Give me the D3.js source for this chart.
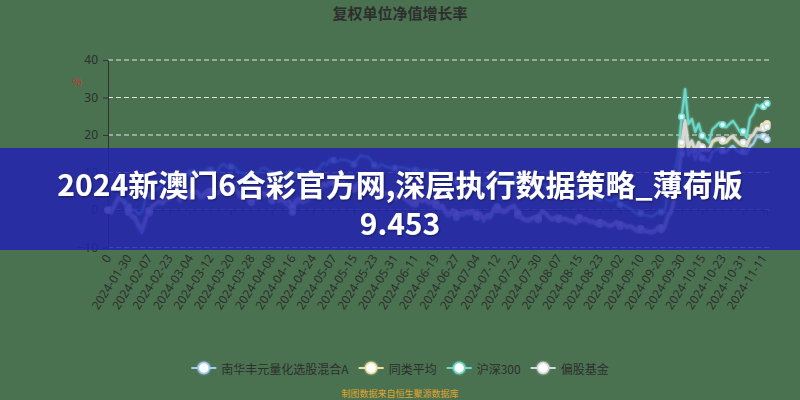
<!DOCTYPE html>
<html><head><meta charset="utf-8">
<script src="https://cdn.jsdelivr.net/npm/d3@7/dist/d3.min.js"></script>
<style>
html,body{margin:0;padding:0;background:#4a7250;}
svg{display:block;font-family:"Noto Sans CJK SC","Noto Sans",sans-serif;}
</style></head><body>
<svg id="chart" width="800" height="400"></svg>
<script>
const chartTitle = "复权单位净值增长率";
const bannerLines = ["2024新澳门6合彩官方网,深层执行数据策略_薄荷版", "9.453"];
const footnote = "制图数据来自恒生聚源数据库";
const yAxisName = "%";
const yTicks = [-10, 0, 10, 20, 30, 40];
const tickLabels = ["0","2024-01-30","2024-02-07","2024-02-23","2024-03-04","2024-03-12","2024-03-20","2024-03-28",
  "2024-04-08","2024-04-16","2024-04-24","2024-05-07","2024-05-15","2024-05-23","2024-05-31","2024-06-11",
  "2024-06-19","2024-06-27","2024-07-04","2024-07-12","2024-07-22","2024-07-30","2024-08-07","2024-08-15",
  "2024-08-23","2024-09-02","2024-09-10","2024-09-20","2024-09-30","2024-10-15","2024-10-23","2024-10-31","2024-11-11"];
const dates = [
 "2024-01-22","2024-01-23","2024-01-24","2024-01-25","2024-01-26","2024-01-29","2024-01-30","2024-01-31",
 "2024-02-01","2024-02-02","2024-02-05","2024-02-06","2024-02-07","2024-02-08","2024-02-19","2024-02-20","2024-02-21","2024-02-22","2024-02-23","2024-02-26","2024-02-27","2024-02-28","2024-02-29",
 "2024-03-01","2024-03-04","2024-03-05","2024-03-06","2024-03-07","2024-03-08","2024-03-11","2024-03-12","2024-03-13","2024-03-14","2024-03-15","2024-03-18","2024-03-19","2024-03-20","2024-03-21","2024-03-22","2024-03-25","2024-03-26","2024-03-27","2024-03-28","2024-03-29","2024-03-31",
 "2024-04-01","2024-04-02","2024-04-03","2024-04-08","2024-04-09","2024-04-10","2024-04-11","2024-04-12","2024-04-15","2024-04-16","2024-04-17","2024-04-18","2024-04-19","2024-04-22","2024-04-23","2024-04-24","2024-04-25","2024-04-26","2024-04-29","2024-04-30",
 "2024-05-06","2024-05-07","2024-05-08","2024-05-09","2024-05-10","2024-05-13","2024-05-14","2024-05-15","2024-05-16","2024-05-17","2024-05-20","2024-05-21","2024-05-22","2024-05-23","2024-05-24","2024-05-27","2024-05-28","2024-05-29","2024-05-30","2024-05-31",
 "2024-06-03","2024-06-04","2024-06-05","2024-06-06","2024-06-07","2024-06-11","2024-06-12","2024-06-13","2024-06-14","2024-06-17","2024-06-18","2024-06-19","2024-06-20","2024-06-21","2024-06-24","2024-06-25","2024-06-26","2024-06-27","2024-06-28","2024-06-30",
 "2024-07-01","2024-07-02","2024-07-03","2024-07-04","2024-07-05","2024-07-08","2024-07-09","2024-07-10","2024-07-11","2024-07-12","2024-07-15","2024-07-16","2024-07-17","2024-07-18","2024-07-19","2024-07-22","2024-07-23","2024-07-24","2024-07-25","2024-07-26","2024-07-29","2024-07-30","2024-07-31",
 "2024-08-01","2024-08-02","2024-08-05","2024-08-06","2024-08-07","2024-08-08","2024-08-09","2024-08-12","2024-08-13","2024-08-14","2024-08-15","2024-08-16","2024-08-19","2024-08-20","2024-08-21","2024-08-22","2024-08-23","2024-08-26","2024-08-27","2024-08-28","2024-08-29","2024-08-30",
 "2024-09-02","2024-09-03","2024-09-04","2024-09-05","2024-09-06","2024-09-09","2024-09-10","2024-09-11","2024-09-12","2024-09-13","2024-09-18","2024-09-19","2024-09-20","2024-09-23","2024-09-24","2024-09-25","2024-09-26","2024-09-27","2024-09-30",
 "2024-10-08","2024-10-09","2024-10-10","2024-10-11","2024-10-14","2024-10-15","2024-10-16","2024-10-17","2024-10-18","2024-10-21","2024-10-22","2024-10-23","2024-10-24","2024-10-25","2024-10-28","2024-10-29","2024-10-30","2024-10-31",
 "2024-11-01","2024-11-05","2024-11-06","2024-11-07","2024-11-08","2024-11-11","2024-11-12"];

const seriesNames = ["南华丰元量化选股混合A", "同类平均", "沪深300", "偏股基金"];
const seriesColors = ["#a6c9ee", "#ece0a2", "#6cd8cb", "#d8d8d8"];

const fundValues = [
 0,-0.8,1.2,3.0,2.6,1.5,-0.6,-2.2,
 -2.8,-5.0,-6.2,-3.0,-0.8,0.8,1.6,2.0,1.4,2.6,3.3,3.0,4.6,2.2,3.8,
 4.3,3.6,3.9,4.5,3.2,3.4,4.6,4.2,4.9,4.0,4.8,5.5,4.3,5.1,5.6,4.3,3.2,3.6,2.4,2.0,2.9,2.9,
 4.1,3.7,3.9,2.4,2.9,2.2,2.5,1.5,0.9,-0.6,1.6,2.4,1.8,2.3,2.8,3.9,4.3,5.5,6.8,6.3,
 7.6,7.5,7.0,7.6,7.2,6.6,6.1,5.6,6.5,7.7,7.6,7.3,6.4,4.9,4.0,4.6,4.1,4.2,3.7,3.5,
 3.2,3.3,2.8,2.0,1.1,1.6,2.6,2.1,2.4,1.6,1.8,1.3,0.2,0.6,-1.4,-1.7,-0.6,-1.9,-1.5,-1.5,
 -1.0,-1.2,-0.8,-1.9,-1.5,-3.1,-1.9,-2.2,-0.2,0.1,-0.4,-0.9,-0.3,0.5,0.8,-1.4,-2.3,-2.9,-3.1,-2.7,-2.2,-2.6,-0.6,
 -0.9,-2.0,-2.8,-2.2,-2.5,-2.7,-2.6,-3.0,-3.3,-3.8,-2.5,-2.8,-2.6,-3.4,-3.2,-4.0,-3.8,-3.5,-4.2,-4.5,-4.2,-3.4,
 -4.4,-4.3,-4.8,-4.6,-5.2,-5.9,-5.4,-5.8,-6.0,-6.3,-6.1,-5.1,-5.2,-5.0,-1.9,-0.8,3.0,8.0,15.0,
 21.5,14.5,16.3,13.5,15.6,13.9,13.4,13.0,15.4,16.0,16.2,15.8,15.4,16.4,17.1,16.0,15.3,15.6,
 14.9,16.9,17.7,19.6,19.4,19.6,18.8];

const peerAvgValues = [
 0,-0.5,1.4,3.2,2.9,1.9,0.2,-1.3,
 -1.9,-3.8,-5.0,-2.2,-0.2,1.0,1.8,2.2,1.9,3.2,3.8,3.6,5.0,2.8,4.3,
 4.8,4.2,4.6,5.0,3.8,4.0,5.0,4.7,5.2,4.4,5.1,5.8,4.8,5.4,5.8,4.6,3.7,4.0,3.0,2.7,3.5,3.5,
 4.6,4.2,4.4,3.0,3.4,2.8,3.0,2.2,2.4,0.8,2.5,3.0,2.4,2.7,3.1,4.0,4.4,5.6,6.9,6.4,
 7.5,7.3,6.9,7.4,7.1,6.6,6.1,5.7,6.6,7.7,7.5,7.2,6.4,5.0,4.2,4.8,4.3,4.3,3.9,3.7,
 3.5,3.6,3.1,2.5,1.8,2.2,3.0,2.6,2.9,2.2,2.3,1.9,0.9,1.2,-0.6,-0.9,0.1,-1.1,-0.8,-0.8,
 -0.4,-0.5,-0.2,-1.2,-0.9,-2.4,-1.3,-1.6,0.4,0.7,0.2,-0.4,0.2,0.9,1.2,-0.9,-1.8,-2.5,-2.7,-2.3,-1.9,-2.2,-0.4,
 -0.7,-1.8,-2.5,-2.0,-2.3,-2.4,-2.3,-2.8,-3.0,-3.4,-2.2,-2.5,-2.4,-3.1,-3.0,-3.7,-3.5,-3.3,-3.9,-4.2,-3.9,-3.2,
 -4.0,-3.9,-4.4,-4.2,-4.8,-5.5,-5.0,-5.4,-5.6,-5.8,-5.6,-4.7,-4.8,-4.6,-1.4,-0.2,3.6,8.8,17.5,
 23.5,16.5,18.2,15.5,17.8,16.4,16.0,15.8,18.0,18.6,18.8,18.4,18.0,19.0,19.6,18.5,17.6,17.8,
 17.0,19.2,20.0,21.8,21.6,22.4,23.0];

const csi300Values = [
 0,0.34,1.74,3.67,3.11,2.49,0.84,-0.09,
 0.03,-1.21,-0.53,2.83,3.88,4.54,5.44,5.84,7.15,8.14,8.58,8.05,9.20,7.58,9.26,
 9.94,9.85,10.78,10.22,9.38,9.70,10.78,10.66,10.35,10.41,11.68,12.31,11.16,11.47,11.56,10.35,9.85,9.82,8.92,9.23,9.91,9.91,
 11.28,11.09,10.63,9.57,10.04,8.92,9.20,8.02,10.41,9.20,10.66,11.00,10.04,9.70,9.38,9.91,10.38,11.09,12.62,11.99,
 13.55,13.24,12.77,13.39,13.42,13.27,12.77,12.21,13.36,14.64,14.23,14.26,13.33,11.99,11.28,12.27,11.72,11.44,11.06,11.22,
 11.28,11.37,11.19,10.81,10.91,10.63,10.75,10.25,10.75,10.22,10.29,10.04,9.38,9.45,8.30,7.89,8.36,7.58,7.55,7.55,
 8.17,8.33,8.30,7.36,7.49,6.62,7.46,6.99,8.55,8.67,8.48,7.80,8.27,9.01,9.04,7.33,6.53,5.62,5.41,5.78,6.22,6.06,6.96,
 6.62,5.56,5.16,5.41,5.19,5.25,5.47,4.82,4.57,3.98,5.22,4.97,4.79,3.88,3.76,2.95,3.11,3.36,2.77,2.42,2.64,3.20,
 1.49,1.46,0.71,0.40,-0.31,-1.18,-0.87,-1.40,-1.43,-1.80,-1.46,-0.50,-0.53,-0.40,4.13,5.72,10.35,15.07,24.86,
 32.26,22.90,24.33,20.79,23.09,19.79,19.08,17.96,21.50,22.34,23.31,22.72,22.00,22.93,23.80,22.47,20.91,20.91,
 19.24,24.43,25.67,28.09,27.53,27.60,28.40];

const equityFundValues = [
 0,-0.6,1.3,3.3,2.8,2.0,0.0,-1.5,
 -2.0,-4.0,-5.1,-2.4,-0.4,1.1,1.9,2.4,2.1,3.3,3.9,3.6,5.2,3.0,4.5,
 5.0,4.5,4.9,5.2,4.0,4.2,5.3,5.0,5.4,4.6,5.3,6.0,5.0,5.6,6.1,4.9,3.9,4.2,3.1,2.8,3.6,3.6,
 4.8,4.4,4.6,3.1,3.6,2.9,3.1,2.3,2.6,1.0,2.7,3.2,2.6,2.9,3.3,4.2,4.6,5.8,7.1,6.6,
 7.8,7.6,7.2,7.7,7.4,6.9,6.4,5.9,6.8,8.0,7.8,7.5,6.7,5.3,4.4,5.0,4.5,4.5,4.1,3.9,
 3.7,3.8,3.3,2.7,2.0,2.4,3.2,2.8,3.1,2.4,2.5,2.1,1.1,1.3,-0.5,-0.8,0.2,-1.0,-0.7,-0.7,
 -0.3,-0.4,-0.1,-1.1,-0.8,-2.3,-1.2,-1.5,0.5,0.8,0.3,-0.3,0.3,1.0,1.3,-0.8,-1.7,-2.3,-2.5,-2.1,-1.7,-2.0,-0.2,
 -0.5,-1.6,-2.3,-1.8,-2.1,-2.2,-2.1,-2.6,-2.8,-3.3,-2.0,-2.3,-2.2,-2.9,-2.8,-3.5,-3.3,-3.1,-3.7,-4.0,-3.7,-3.0,
 -3.9,-3.8,-4.3,-4.1,-4.7,-5.4,-4.9,-5.3,-5.5,-5.7,-5.5,-4.6,-4.7,-4.5,-1.3,-0.1,3.8,9.0,18.0,
 24.0,17.0,18.6,16.0,18.2,16.8,16.3,16.0,18.4,19.0,19.2,18.7,18.3,19.3,19.8,18.7,17.8,18.0,
 17.2,19.3,20.1,21.6,21.3,21.8,22.2];

const seriesValues = [fundValues, peerAvgValues, csi300Values, equityFundValues];

// ---------- drawing ----------
const W = 800, H = 400;
const svg = d3.select("#chart");
svg.append("rect").attr("width", W).attr("height", H).attr("fill", "#4a7250");

const margin = {left: 108, right: 33, top: 60, bottom: 152.5};
const x = d3.scalePoint().domain(d3.range(dates.length)).range([margin.left, W - margin.right]);
const y = d3.scaleLinear().domain([-10, 40]).range([H - margin.bottom, margin.top]);

const defs = svg.append("defs");
const glow = defs.append("filter").attr("id", "glow").attr("x", "-50%").attr("y", "-50%").attr("width", "200%").attr("height", "200%");
glow.append("feGaussianBlur").attr("stdDeviation", 1.2).attr("result", "b");
const gm = glow.append("feMerge");
gm.append("feMergeNode").attr("in", "b");
gm.append("feMergeNode").attr("in", "SourceGraphic");
const tshadow = defs.append("filter").attr("id", "tshadow").attr("x", "-10%").attr("y", "-30%").attr("width", "120%").attr("height", "160%");
tshadow.append("feDropShadow").attr("dx", 1).attr("dy", 1).attr("stdDeviation", 1).attr("flood-color", "#000").attr("flood-opacity", 0.45);

// title
svg.append("text").attr("x", W / 2).attr("y", 12).attr("text-anchor", "middle")
  .attr("dominant-baseline", "central").attr("font-size", 15).attr("font-weight", "bold")
  .attr("fill", "#2e2e2e").text(chartTitle);

// grid lines
svg.append("g").selectAll("line").data(yTicks).join("line")
  .attr("x1", margin.left).attr("x2", W - margin.right + 2)
  .attr("y1", d => y(d)).attr("y2", d => y(d))
  .attr("stroke", "#e6e6e6").attr("stroke-width", 1).attr("stroke-dasharray", "5,3");

// y axis
const yAxis = d3.axisLeft(y).tickValues(yTicks).tickSize(5).tickPadding(5);
const gy = svg.append("g").attr("transform", `translate(${margin.left},0)`).call(yAxis);
gy.select(".domain").attr("stroke", "#333");
gy.selectAll(".tick line").attr("stroke", "#333");
gy.selectAll(".tick text").attr("font-size", 12).attr("fill", "#2e2e2e").attr("font-family", "'Noto Sans','DejaVu Sans',sans-serif");

svg.append("text").attr("x", 76).attr("y", 81).attr("text-anchor", "middle")
  .attr("dominant-baseline", "central").attr("font-size", 11).attr("font-style", "italic")
  .attr("fill", "#c0392b").text(yAxisName);

// x axis at zero
const tickIdx = d3.range(dates.length).filter(i => i % 6 === 0);
const xAxis = d3.axisBottom(x).tickValues(tickIdx).tickSize(5).tickFormat("");
const gx = svg.append("g").attr("transform", `translate(0,${y(0)})`).call(xAxis);
gx.select(".domain").attr("stroke", "#333");
gx.selectAll(".tick line").attr("stroke", "#333");

// x labels at bottom of grid
svg.append("g").selectAll("text").data(tickIdx).join("text")
  .attr("transform", d => `translate(${x(d)},${y(-10) + 8}) rotate(-57)`)
  .attr("text-anchor", "end").attr("dominant-baseline", "central")
  .attr("font-size", 12).attr("fill", "#2e2e2e")
  .attr("font-family", "'Noto Sans','DejaVu Sans',sans-serif")
  .text((d, k) => tickLabels[k]);

// lines
const line = d3.line().x((d, i) => x(i)).y(d => y(d));
const gLines = svg.append("g");
seriesValues.forEach((vals, s) => {
  gLines.append("path").datum(vals).attr("d", line)
    .attr("fill", "none").attr("stroke", seriesColors[s]).attr("stroke-width", 2)
    .attr("stroke-linejoin", "round").attr("filter", "url(#glow)");
});
seriesValues.forEach((vals, s) => {
  const pts = vals.map((v, i) => ({v, i})).filter(p => p.i % 6 === 0 || p.i === vals.length - 1);
  gLines.append("g").selectAll("circle").data(pts).join("circle")
    .attr("cx", p => x(p.i)).attr("cy", p => y(p.v)).attr("r", 3)
    .attr("fill", "#f4fbff").attr("fill-opacity", 0.9)
    .attr("stroke", seriesColors[s]).attr("stroke-width", 1.5);
});

// banner overlay
svg.append("rect").attr("x", 0).attr("y", 148).attr("width", W).attr("height", 102)
  .attr("fill", "#2121b0").attr("opacity", 0.84);
svg.append("g").selectAll("text").data(bannerLines).join("text")
  .attr("x", W / 2).attr("y", (d, i) => 183 + i * 39)
  .attr("text-anchor", "middle").attr("dominant-baseline", "central")
  .attr("font-size", 30).attr("font-weight", "bold").attr("fill", "#ffffff")
  .attr("filter", "url(#tshadow)")
  .text(d => d);

// legend
const legend = svg.append("g");
const items = legend.selectAll("g").data(seriesNames).join("g");
items.append("line").attr("x1", 0).attr("x2", 25).attr("y1", 0).attr("y2", 0)
  .attr("stroke", (d, i) => seriesColors[i]).attr("stroke-width", 2);
items.append("circle").attr("cx", 12.5).attr("cy", 0).attr("r", 5.5)
  .attr("fill", "#fbfdff").attr("stroke", (d, i) => seriesColors[i]).attr("stroke-width", 1.5)
  .attr("filter", "url(#glow)");
items.append("text").attr("x", 30).attr("y", 0).attr("dominant-baseline", "central")
  .attr("font-size", 12).attr("fill", "#2e2e2e").text(d => d);
const widths = [];
items.each(function() {
  widths.push(30 + this.querySelector("text").getComputedTextLength());
});
const total = d3.sum(widths) + 10 * (widths.length - 1);
let start = W / 2 - total / 2;
items.attr("transform", (d, i) => {
  const t = `translate(${start},368)`;
  start += widths[i] + 10;
  return t;
});

// footnote
svg.append("text").attr("x", W / 2).attr("y", 393).attr("text-anchor", "middle")
  .attr("dominant-baseline", "central").attr("font-size", 9).attr("fill", "#e0a52c").text(footnote);
</script>
</body></html>
